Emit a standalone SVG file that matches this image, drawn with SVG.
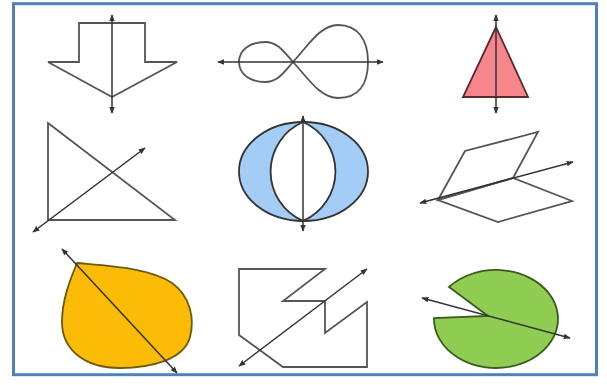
<svg xmlns="http://www.w3.org/2000/svg" width="607" height="385" viewBox="0 0 607 385">
<defs>
<marker id="ah" viewBox="0 0 10 10" refX="9" refY="5" markerWidth="7" markerHeight="7" markerUnits="userSpaceOnUse" orient="auto-start-reverse">
<path d="M0,1 L10,5 L0,9 Z" fill="#333"/>
</marker>
</defs>
<style>
.sh{fill:none;stroke:#555;stroke-width:1.8;stroke-linejoin:miter}
.ax{fill:none;stroke:#333;stroke-width:1.5;marker-start:url(#ah);marker-end:url(#ah)}
</style>
<rect x="0" y="0" width="607" height="385" fill="#fff"/>
<rect x="13.5" y="3.7" width="583" height="371" fill="#fff" stroke="#4f81bd" stroke-width="3"/>
<g id="n1">
<polygon class="sh" points="79,23 145,23 145,62 177,62 112,97 48,62 79,62"/>
</g>
<g id="n2">
<path class="sh" d="M293,62 C284,52 278,42 265,42 C250,42 239,50 239,62 C239,74 250,82 265,82 C278,82 284,72 293,62 C308,46 320,25 338,25 C358,25 368,40 368,62 C368,85 358,98 338,98 C320,98 308,78 293,62 Z"/>
</g>
<g id="n3">
<polygon points="496,27 528,97 463,97" fill="#f4868c" stroke="#5a2a2a" stroke-width="1.8"/>
</g>
<g id="n4">
<polygon class="sh" points="48,123 175,220 48,220"/>
</g>
<g id="n5">
<ellipse cx="303.5" cy="171.5" rx="64.5" ry="49.5" fill="#a3ccf6" stroke="#333" stroke-width="1.8"/>
<path d="M303,122 A54,54 0 0,0 303,221 A54,54 0 0,0 303,122 Z" fill="#fff" stroke="#333" stroke-width="1.8"/>
</g>
<g id="n6">
<polygon class="sh" points="438,200 465,151 538,132 513,178"/>
<polygon class="sh" points="438,200 513,178 572,201 498,222"/>
</g>
<g id="n7">
<path d="M77,263 C110,266 150,268 172,283 C190,296 195,318 190,337 C184,360 150,368 120,368 C85,368 62,350 62,322 C62,300 70,280 77,263 Z" fill="#fbbb07" stroke="#6b5a10" stroke-width="1.8"/>
</g>
<g id="n8">
<polygon class="sh" points="239,269 325,269 283,301 325,301 325,333 367,302 367,367 283,367 239,335"/>
</g>
<g id="n9">
<path d="M488,316 L449,287 A62,49 0 1,1 434,318 Z" fill="#8fcd52" stroke="#3a5a1e" stroke-width="1.8"/>
</g>
<g id="connectors">
<line class="ax" x1="112" y1="15" x2="112" y2="113"/>
<line class="ax" x1="218" y1="62" x2="383" y2="62"/>
<line class="ax" x1="496" y1="15" x2="496" y2="113"/>
<line class="ax" x1="33" y1="232" x2="145" y2="148"/>
<line class="ax" x1="303" y1="116" x2="303" y2="231"/>
<line class="ax" x1="420" y1="203" x2="573" y2="162"/>
<line class="ax" x1="62" y1="249" x2="177" y2="373"/>
<line class="ax" x1="239" y1="366" x2="367" y2="269"/>
<line class="ax" x1="422" y1="298" x2="570" y2="338"/>
</g>
</svg>
